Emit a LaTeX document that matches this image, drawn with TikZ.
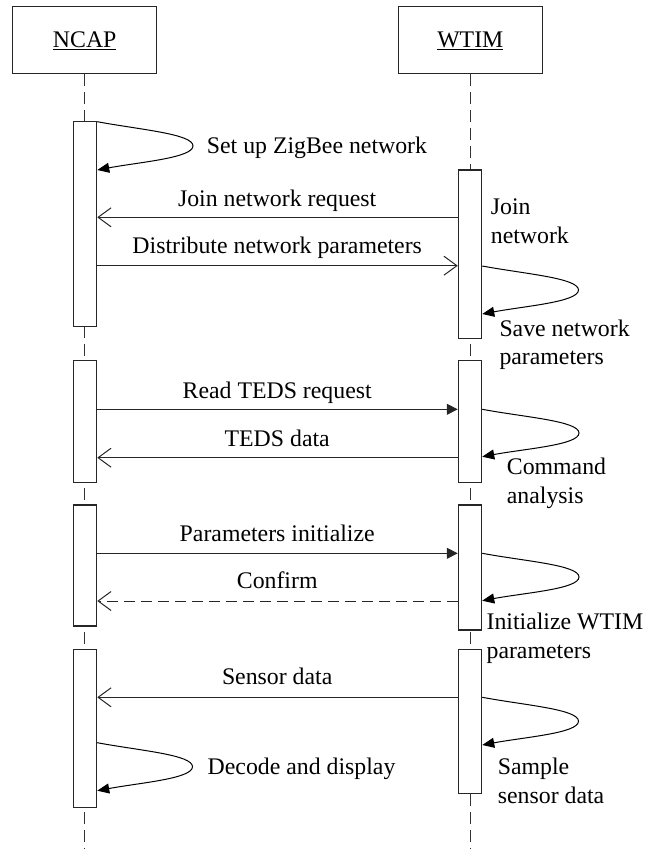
\documentclass[tikz,border=0pt]{standalone}
\usepackage{fontspec}
\setmainfont{Liberation Serif}
\usetikzlibrary{arrows.meta}
\begin{document}
\begin{tikzpicture}[x=1pt,y=-1pt,
  every node/.style={font=\fontsize{23.8pt}{28.5pt}\selectfont, inner sep=0pt, text=black},
  head/.style={draw=black!85, line width=1.1pt, minimum width=144pt, minimum height=67.3pt, text height=16pt, text depth=0pt},
  life/.style={draw=black!80, line width=1pt, dash pattern=on 12pt off 6pt},
  act/.style={draw=black!85, fill=white, line width=1.1pt, minimum width=23.4pt},
  lbl/.style={anchor=base},
  note/.style={anchor=base west, align=left},
  msg/.style={draw=black!85, line width=1pt, -{Straight Barb[length=13pt,width=19pt]}},
  call/.style={draw=black!85, line width=1pt, -{Triangle[length=11pt,width=11pt]}},
  ret/.style={msg, dash pattern=on 11pt off 6pt},
  selfmsg/.style={draw=black, line width=1pt, -{Triangle[length=12pt,width=10pt]}}
]
\useasboundingbox (0,0) rectangle (654,849);

% headers
\node[head] (ncap) at (84.7,39.7) {\underline{NCAP}};
\node[head] (wtim) at (470.3,39.7) {\underline{WTIM}};

% lifelines
\coordinate (ncapend) at (84.7,849);
\coordinate (wtimend) at (470.3,849);
\draw[life] (ncap.south) -- (ncapend);
\draw[life] (wtim.south) -- (wtimend);

% activation boxes
\node[act, minimum height=205pt]   (n1) at (85,224.2) {};
\node[act, minimum height=121.6pt] (n2) at (85,421.5) {};
\node[act, minimum height=121pt]   (n3) at (85,565.5) {};
\node[act, minimum height=158pt]   (n4) at (85,728.3) {};
\node[act, minimum height=168.3pt] (w1) at (470,254.15) {};
\node[act, minimum height=121.6pt] (w2) at (470,421.5) {};
\node[act, minimum height=125pt]   (w3) at (470,567.5) {};
\node[act, minimum height=144pt]   (w4) at (470,721.3) {};

% loop tips
\coordinate (t1) at (193,145.9);
\coordinate (t2) at (578.5,290);
\coordinate (t3) at (579,433);
\coordinate (t4) at (579,577);
\coordinate (t5) at (578.5,721.2);
\coordinate (t6) at (192.5,766.7);

% 1 set up network
\draw[selfmsg] (n1.east |- 0,121.7) .. controls +(43,8) and +(0,-12) .. (t1)
  .. controls +(0,12) and +(43,-8) .. (n1.east |- 0,170);
\node[anchor=base west] (l1) at (206.7,153) {Set up ZigBee network};

% 2 join request
\draw[msg] (w1.west |- 0,217.3) -- (n1.east |- 0,217.3);
\node[lbl] (l2) at (277.2,206) {Join network request};
\node[note] (l3) at (490.7,243.2) {Join\\network};

% 3 distribute
\draw[msg] (n1.east |- 0,265.7) -- (w1.west |- 0,265.7);
\node[lbl] (l4) at (277.2,253.7) {Distribute network parameters};

\draw[selfmsg] (w1.east |- 0,266) .. controls +(43,8) and +(0,-12) .. (t2)
  .. controls +(0,12) and +(43,-8) .. (w1.east |- 0,314);
\node[note] (l5) at (499.3,364.5) {Save network\\parameters};

% 4 read TEDS
\draw[call] (n2.east |- 0,409.3) -- (w2.west |- 0,409.3);
\node[lbl] (l6) at (277.2,398) {Read TEDS request};
\draw[msg] (w2.west |- 0,457.7) -- (n2.east |- 0,457.7);
\node[lbl] (l7) at (277.2,446) {TEDS data};
\draw[selfmsg] (w2.east |- 0,409.3) .. controls +(43,8) and +(0,-12) .. (t3)
  .. controls +(0,12) and +(43,-8) .. (w2.east |- 0,456.7);
\node[note] (l8) at (506.7,503.2) {Command\\analysis};

% 5 initialize
\draw[call] (n3.east |- 0,553.3) -- (w3.west |- 0,553.3);
\node[lbl] (l9) at (277.2,541.3) {Parameters initialize};
\draw[ret] (w3.west |- 0,601) -- (n3.east |- 0,601);
\node[lbl] (l10) at (277.2,588.7) {Confirm};
\draw[selfmsg] (w3.east |- 0,553.3) .. controls +(43,8) and +(0,-12) .. (t4)
  .. controls +(0,12) and +(43,-8) .. (w3.east |- 0,600.7);
\node[note] (l11) at (486.4,658.2) {Initialize WTIM\\parameters};

% 6 sensor data
\draw[msg] (w4.west |- 0,697.3) -- (n4.east |- 0,697.3);
\node[lbl] (l12) at (277.2,684.7) {Sensor data};
\draw[selfmsg] (w4.east |- 0,697.3) .. controls +(43,8) and +(0,-12) .. (t5)
  .. controls +(0,12) and +(43,-8) .. (w4.east |- 0,745);
\node[note] (l13) at (497.7,803.2) {Sample\\sensor data};
\draw[selfmsg] (n4.east |- 0,742.7) .. controls +(43,8) and +(0,-12) .. (t6)
  .. controls +(0,12) and +(43,-8) .. (n4.east |- 0,790.7);
\node[anchor=base west] (l14) at (207.5,774.7) {Decode and display};
\end{tikzpicture}
\end{document}
